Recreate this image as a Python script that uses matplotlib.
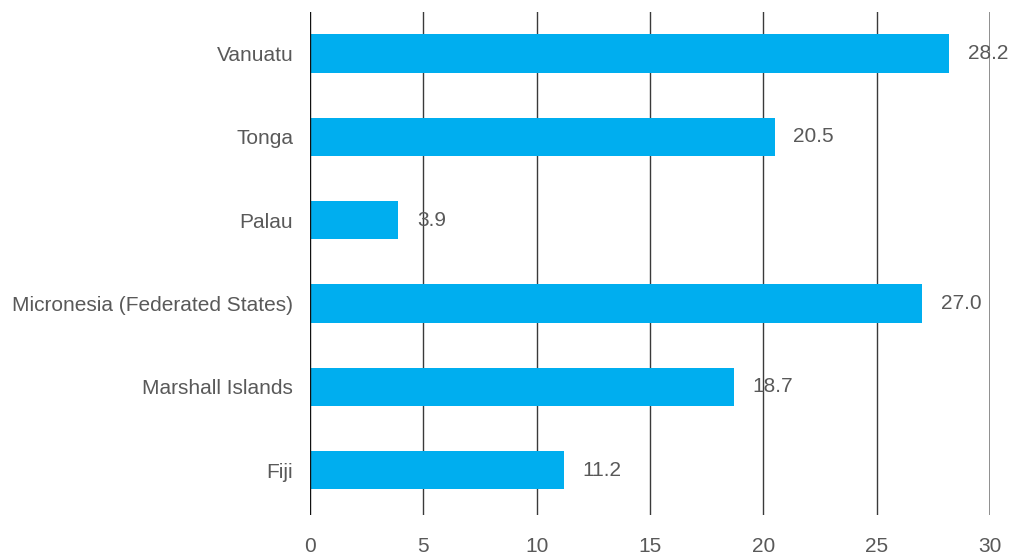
import matplotlib

matplotlib.use("Agg")
import matplotlib.pyplot as plt

countries = ["Fiji", "Marshall Islands", "Micronesia (Federated States)", "Palau", "Tonga", "Vanuatu"]
values = [11.2, 18.7, 27.0, 3.9, 20.5, 28.2]
x_ticks = [0, 5, 10, 15, 20, 25, 30]

BAR_COLOR = "#00AEEF"
TEXT_COLOR = "#595959"

plt.rcParams["font.family"] = ["Liberation Sans", "DejaVu Sans"]

fig = plt.figure(figsize=(10.09, 5.55), dpi=100)
ax = fig.add_axes([310 / 1009, 40 / 555, 680 / 1009, 503 / 555])

pos = list(range(len(countries)))
ax.barh(pos, values, height=0.46, color=BAR_COLOR, zorder=2)

# vertical grid: zero line darkest, right edge lighter
for t in x_ticks:
    ax.axvline(t, color="#111111" if t == 0 else ("#707070" if t == 30 else "#3a3a3a"),
               linewidth=1.1 if t == 30 else 1.0, zorder=1 if t else 3)

for p, v in zip(pos, values):
    ax.annotate(f"{v:.1f}", xy=(v, p), xytext=(13.5, 0), textcoords="offset points",
                ha="left", va="center", fontsize=15, color=TEXT_COLOR, zorder=4)

ax.set_xlim(0, 30)
ax.set_ylim(-0.54, 5.5)
ax.set_yticks(pos, countries)
ax.set_xticks(x_ticks, [str(t) for t in x_ticks])
ax.tick_params(axis="both", length=0, labelsize=15, labelcolor=TEXT_COLOR)
ax.tick_params(axis="y", pad=12)
ax.tick_params(axis="x", pad=16)
for spine in ax.spines.values():
    spine.set_visible(False)

fig.savefig("out.png", dpi=100)
